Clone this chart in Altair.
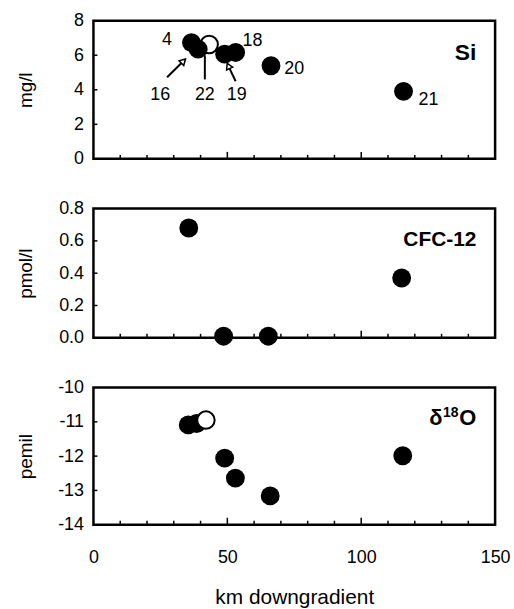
import altair as alt
import pandas as pd

FONT = "Liberation Sans"

# ---------------- data ----------------
# Si panel (mg/l)
si_km = [36.6, 39.1, 49.0, 53.1, 66.3, 115.8]
si_val = [6.73, 6.35, 6.06, 6.16, 5.39, 3.91]
si_open_km = [43.2]
si_open_val = [6.62]
si_lbl = ["4", "18", "20", "16", "22", "19", "21"]
si_lbl_km = [27.5, 59.4, 75.0, 24.9, 41.6, 53.5, 125.1]
si_lbl_val = [6.9, 6.85, 5.18, 3.68, 3.68, 3.68, 3.4]
arrow_km = [27.5, 41.6, 53.1]
arrow_val = [4.72, 4.6, 4.49]
arrow_km2 = [34.2, 41.6, 50.1]
arrow_val2 = [5.75, 5.99, 5.47]
head_km = [33.6, 50.4]
head_val = [5.66, 5.38]
head_angle = [45, 335]

# CFC-12 panel (pmol/l)
cfc_km = [35.6, 48.6, 65.3, 115.1]
cfc_val = [0.68, 0.01, 0.01, 0.37]

# delta 18O panel (permil)
o_km = [35.4, 38.5, 49.0, 53.0, 66.0, 115.5]
o_val = [-11.09, -11.05, -12.06, -12.64, -13.16, -11.99]
o_open_km = [42.0]
o_open_val = [-10.95]

# axes / ticks
x_minor = [10, 20, 30, 40, 60, 70, 80, 90, 110, 120, 130, 140]
x_major = [50, 100]
x_labels = [0, 50, 100, 150]
si_ticks = [0, 2, 4, 6, 8]
cfc_ticks = [0, 0.2, 0.4, 0.6, 0.8]
o_ticks = [-14, -13, -12, -11, -10]

W = 404
XS = alt.Scale(domain=[0, 150], nice=False, zero=False)


def panel(H, ydom, yticks, ytitle, yfmt, filled, opened, open_on_top,
          label_text, label_y, show_x, extra=None, label_size=21):
    YS = alt.Scale(domain=ydom, nice=False, zero=False)
    yaxis = alt.Axis(values=yticks, title=ytitle, labelFontSize=18,
                     labelPadding=10, titleFontSize=19,
                     titleFontWeight="normal", titleX=-68, titleY=H / 2,
                     titleAngle=270, titleBaseline="middle",
                     titleAlign="center", labelFlush=False,
                     labelOverlap=False,
                     labelExpr="replace(format(datum.value, '%s'), '\u2212', '-')" % yfmt)
    if show_x:
        xaxis = alt.Axis(values=x_labels, title="km downgradient",
                         labelFontSize=18, labelPadding=24,
                         titleFontSize=21, titleFontWeight="normal",
                         titlePadding=20, labelFlush=False)
    else:
        xaxis = None

    def X(f):
        return alt.X(f, type="quantitative", scale=XS, axis=xaxis)

    def Y(f):
        return alt.Y(f, type="quantitative", scale=YS, axis=yaxis)

    minor = alt.Chart(pd.DataFrame({"km": x_minor})).mark_rule(
        color="black", strokeWidth=1.5).encode(
        x=X("km"), y=alt.value(H), y2=alt.value(H - 4))
    major = alt.Chart(pd.DataFrame({"km": x_major})).mark_rule(
        color="black", strokeWidth=1.5).encode(
        x=X("km"), y=alt.value(H), y2=alt.value(H - 7))
    yt = alt.Chart(pd.DataFrame({"v": yticks[1:-1]})).mark_rule(
        color="black", strokeWidth=1.5).encode(
        y=Y("v"), x=alt.value(0), x2=alt.value(4))

    fdf = pd.DataFrame({"km": filled[0], "v": filled[1]})
    fl = alt.Chart(fdf).mark_circle(size=360, color="black", opacity=1).encode(
        x=X("km"), y=Y("v"))
    layers = [minor, major, yt]
    if extra is not None:
        layers += extra(X, Y)
    if opened is not None:
        odf = pd.DataFrame({"km": opened[0], "v": opened[1]})
        op = alt.Chart(odf).mark_point(size=310, filled=True, fill="white",
                                       stroke="black", strokeWidth=2,
                                       opacity=1, shape="circle").encode(
            x=X("km"), y=Y("v"))
        if open_on_top:
            layers += [fl, op]
        else:
            layers += [op, fl]
    else:
        layers += [fl]

    ldf = pd.DataFrame({"km": [143], "v": [label_y]})
    if label_text == "d18O":
        t1 = alt.Chart(ldf).mark_text(font=FONT, fontSize=22, fontWeight="bold",
                                      align="right", baseline="alphabetic",
                                      color="black").encode(
            x=X("km"), y=Y("v"), text=alt.value("O"))
        t2 = alt.Chart(ldf).mark_text(font=FONT, fontSize=14, fontWeight="bold",
                                      align="right", baseline="alphabetic",
                                      dx=-18, dy=-8, color="black").encode(
            x=X("km"), y=Y("v"), text=alt.value("18"))
        t3 = alt.Chart(ldf).mark_text(font=FONT, fontSize=22, fontWeight="bold",
                                      align="right", baseline="alphabetic",
                                      dx=-34, color="black").encode(
            x=X("km"), y=Y("v"), text=alt.value("\u03b4"))
        layers += [t1, t2, t3]
    else:
        t = alt.Chart(ldf).mark_text(font=FONT, fontSize=label_size,
                                     fontWeight="bold",
                                     align="right", baseline="alphabetic",
                                     color="black").encode(
            x=X("km"), y=Y("v"), text=alt.value(label_text))
        layers += [t]

    return alt.layer(*layers).properties(width=W, height=H)


def si_extra(X, Y):
    adf = pd.DataFrame({"km": arrow_km, "v": arrow_val,
                        "km2": arrow_km2, "v2": arrow_val2})
    ar = alt.Chart(adf).mark_rule(color="black", strokeWidth=2).encode(
        x=X("km"), y=Y("v"), x2="km2", y2="v2")
    hdf = pd.DataFrame({"km": head_km, "v": head_val, "a": head_angle})
    hd = alt.Chart(hdf).mark_point(shape="triangle-up", size=45, filled=True,
                                   fill="white", stroke="black",
                                   strokeWidth=1.5, opacity=1).encode(
        x=X("km"), y=Y("v"),
        angle=alt.Angle("a:Q", scale=alt.Scale(domain=[0, 360], range=[0, 360])))
    tdf = pd.DataFrame({"km": si_lbl_km, "v": si_lbl_val, "t": si_lbl})
    tx = alt.Chart(tdf).mark_text(font=FONT, fontSize=18, color="black",
                                  align="center", baseline="middle").encode(
        x=X("km"), y=Y("v"), text="t:N")
    return [ar, hd, tx]


p1 = panel(139, [0, 8], si_ticks, "mg/l", "d", (si_km, si_val),
           (si_open_km, si_open_val), False, "Si", 5.75, False, si_extra,
           label_size=23)
p2 = panel(130, [0, 0.8], cfc_ticks, "pmol/l", ".1f", (cfc_km, cfc_val),
           None, False, "CFC-12", 0.57, False)
p3 = panel(138, [-14, -10], o_ticks, "pemil", "d", (o_km, o_val),
           (o_open_km, o_open_val), True, "d18O", -11.1, True)

chart = alt.vconcat(p1, p2, p3, spacing=50, bounds="flush").properties(
    padding={"left": 15, "top": 8, "right": 2, "bottom": 2}
).configure_view(stroke="black", strokeWidth=2.5).configure_axis(
    labelFont=FONT, titleFont=FONT, labelColor="black", titleColor="black",
    grid=False, ticks=False, domain=False
)

chart.save("out.html", embed_options={"renderer": "svg", "actions": False})
